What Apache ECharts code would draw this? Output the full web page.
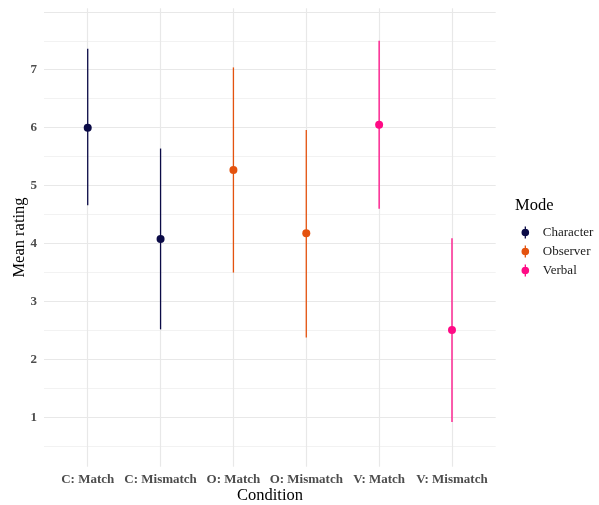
<!DOCTYPE html>
<html>
<head>
<meta charset="utf-8">
<script src="https://cdn.jsdelivr.net/npm/echarts@6/dist/echarts.min.js"></script>
<style>html,body{margin:0;padding:0;background:#fff}#chart{width:599px;height:505px}</style>
</head>
<body>
<div id="chart"></div>
<script>
const categories = ['C: Match', 'C: Mismatch', 'O: Match', 'O: Mismatch', 'V: Match', 'V: Mismatch'];
const modeOfCategory = ['Character', 'Character', 'Observer', 'Observer', 'Verbal', 'Verbal'];
const modes = ['Character', 'Observer', 'Verbal'];
const modeColors = ['#0b0b47', '#e4520e', '#ff0a85'];
const means = [6.00, 4.08, 5.27, 4.18, 6.05, 2.51];
const lower = [4.66, 2.52, 3.50, 2.38, 4.60, 0.92];
const upper = [7.36, 5.64, 7.04, 5.96, 7.50, 4.09];
const yTickLabels = [1, 2, 3, 4, 5, 6, 7];
const yMajorLines = [1, 2, 3, 4, 5, 6, 7, 8];
const yMinorLines = [0.5, 1.5, 2.5, 3.5, 4.5, 5.5, 6.5, 7.5];

const serif = 'Liberation Serif';
const catIdx = categories.map((c, i) => i);

const series = [];
modes.forEach((m, mi) => {
  const idx = catIdx.filter(i => modeOfCategory[i] === m);
  series.push({
    name: m,
    type: 'custom',
    xAxisIndex: 0, yAxisIndex: 0,
    data: idx.map(i => [i, lower[i], upper[i]]),
    encode: { x: 0, y: [1, 2] },
    renderItem: function (params, api) {
      const x = api.value(0);
      const a = api.coord([x, api.value(1)]);
      const b = api.coord([x, api.value(2)]);
      return { type: 'line', shape: { x1: a[0], y1: a[1], x2: b[0], y2: b[1] },
        style: { stroke: modeColors[mi], lineWidth: 1.3 } };
    },
    itemStyle: { color: modeColors[mi] },
    z: 2, silent: true
  });
  series.push({
    name: m,
    type: 'scatter',
    xAxisIndex: 0, yAxisIndex: 0,
    data: idx.map(i => [i, means[i]]),
    symbolSize: 8,
    itemStyle: { color: modeColors[mi], opacity: 1 },
    z: 3, silent: true
  });
});

const iconPath = 'path://M4.4,0L5.6,0L5.6,2.2L4.4,2.2Z M4.4,8.8L5.6,8.8L5.6,11L4.4,11Z M8.5,5.5A3.5,3.5,0,1,1,1.5,5.5A3.5,3.5,0,1,1,8.5,5.5Z';

const chart = echarts.init(document.getElementById('chart'), null, { renderer: 'canvas' });
chart.setOption({
  backgroundColor: '#ffffff',
  animation: false,
  grid: { left: 44, right: 103.3, top: 8.3, bottom: 38.3, containLabel: false, outerBoundsMode: 'none' },
  xAxis: {
    type: 'value', min: -0.6, max: 5.6,
    axisLine: { show: false },
    axisTick: { show: false, customValues: catIdx },
    axisLabel: { customValues: catIdx, margin: 6,
      formatter: v => categories[Math.round(v)] || '',
      fontFamily: serif, fontWeight: 'bold', fontSize: 13, color: '#4d4d4d' },
    splitLine: { show: true, lineStyle: { color: '#e8e8e8', width: 1.2 } }
  },
  yAxis: [{
    type: 'value', min: 0.15, max: 8.06,
    axisLine: { show: false },
    axisTick: { show: false, customValues: yMajorLines },
    axisLabel: { customValues: yTickLabels, margin: 7,
      fontFamily: serif, fontWeight: 'bold', fontSize: 13, color: '#4d4d4d' },
    splitLine: { show: true, lineStyle: { color: '#e8e8e8', width: 1.2 } }
  }, {
    type: 'value', min: 0.15, max: 8.06, position: 'left',
    axisLine: { show: false },
    axisTick: { show: false, customValues: yMinorLines },
    axisLabel: { show: false },
    splitLine: { show: true, lineStyle: { color: '#efefef', width: 0.8 } }
  }],
  legend: {
    orient: 'vertical', left: 516.5, top: 221,
    itemWidth: 25, itemHeight: 12, itemGap: 6,
    selectedMode: false,
    data: modes.map((m, i) => ({ name: m, icon: iconPath, itemStyle: { color: modeColors[i] } })),
    textStyle: { fontFamily: serif, fontSize: 13, color: '#1a1a1a', padding: [0, 0, 0, 0] }
  },
  graphic: [{
    type: 'text', left: 515, top: 197.5,
    style: { text: 'Mode', fontFamily: serif, fontSize: 16.5, fill: '#000' }
  }, {
    type: 'text', x: 270, y: 496,
    style: { text: 'Condition', fontFamily: serif, fontSize: 16.5, fill: '#000',
      align: 'center', verticalAlign: 'middle' }
  }, {
    type: 'text', x: 19.5, y: 237.5, rotation: Math.PI / 2,
    style: { text: 'Mean rating', fontFamily: serif, fontSize: 16.5, fill: '#000',
      align: 'center', verticalAlign: 'middle' }
  }],
  series: series
});
</script>
</body>
</html>
